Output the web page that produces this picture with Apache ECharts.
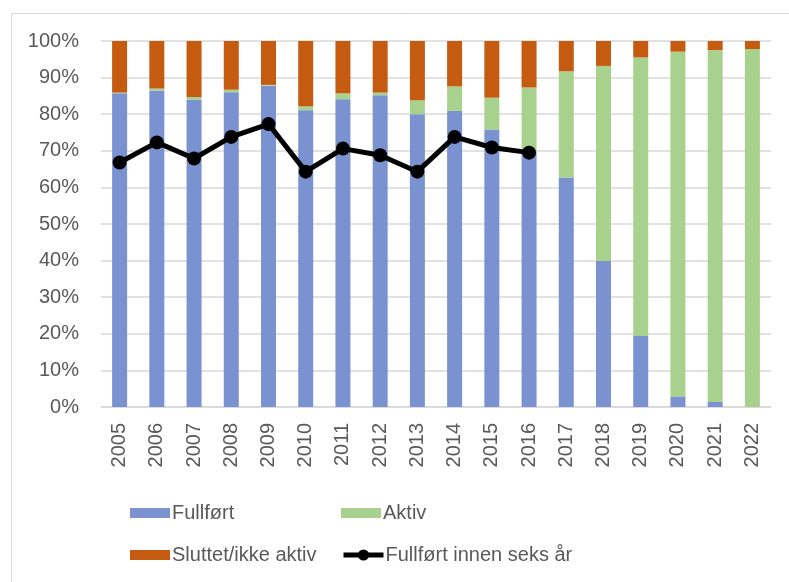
<!DOCTYPE html>
<html>
<head>
<meta charset="utf-8">
<script src="https://cdn.jsdelivr.net/npm/echarts@6/dist/echarts.min.js"></script>
<style>
  html, body { margin: 0; padding: 0; background: #fff; }
  #main { width: 789px; height: 582px; }
</style>
</head>
<body>
<div id="main"></div>
<script>
// år
const years = ['2005','2006','2007','2008','2009','2010','2011','2012','2013','2014','2015','2016','2017','2018','2019','2020','2021','2022'];
// andeler i prosent
const fullfort = [85.7, 86.5, 84.0, 86.0, 87.8, 81.1, 84.1, 85.2, 80.0, 80.9, 75.8, 69.6, 62.7, 39.9, 19.4, 2.9, 1.4, 0];
const aktiv    = [0.2, 0.5, 0.7, 0.7, 0.2, 1.1, 1.6, 0.7, 3.8, 6.7, 8.7, 17.7, 29.0, 53.3, 76.1, 94.2, 96.1, 97.8];
const sluttet  = fullfort.map((v, i) => +(100 - v - aktiv[i]).toFixed(1));
const innenSeks = [66.8, 72.3, 67.9, 73.8, 77.3, 64.3, 70.6, 68.8, 64.3, 73.8, 70.9, 69.5, null, null, null, null, null, null];

const txt = '#595959';
const font = 'Liberation Sans, Arial, sans-serif';

const chart = echarts.init(document.getElementById('main'));

// en legend per element, plassert som i originalen
function legendAt(name, left, top, extra) {
  return Object.assign({
    data: [name], left: left, top: top,
    icon: 'rect',
    itemWidth: 40, itemHeight: 10, itemGap: 0,
    textStyle: { color: txt, fontSize: 20, fontFamily: font, padding: [0, 0, 0, -3] },
    padding: 0
  }, extra || {});
}

chart.setOption({
  animation: false,
  backgroundColor: '#fff',
  graphic: [{
    type: 'rect', left: 9, top: 11,
    shape: { width: 800, height: 600 },
    style: { fill: 'none', stroke: '#d9d9d9', lineWidth: 1 },
    silent: true
  }],
  grid: { left: 101, right: 18, top: 41, bottom: 175 },
  legend: [
    legendAt('Fullført', 130, 503),
    legendAt('Aktiv', 341, 503),
    legendAt('Sluttet/ikke aktiv', 130, 545),
    legendAt('Fullført innen seks år', 341, 545, {
      icon: null, itemHeight: 14,
      lineStyle: { width: 5, color: '#000' },
      itemStyle: { color: '#000' }
    })
  ],
  xAxis: {
    type: 'category', data: years,
    axisTick: { show: false },
    axisLine: { lineStyle: { color: '#d9d9d9', width: 1.5 } },
    axisLabel: { rotate: 90, color: txt, fontSize: 20, fontFamily: font, margin: 16 }
  },
  yAxis: {
    type: 'value', min: 0, max: 100, interval: 10,
    axisLine: { show: false }, axisTick: { show: false },
    axisLabel: { formatter: '{value}%', color: txt, fontSize: 20, fontFamily: font, margin: 22 },
    splitLine: { lineStyle: { color: '#d9d9d9', width: 1.5 } }
  },
  series: [
    { name: 'Fullført', type: 'bar', stack: 'a', barWidth: 15, data: fullfort, itemStyle: { color: '#7a92cf' } },
    { name: 'Aktiv', type: 'bar', stack: 'a', barWidth: 15, data: aktiv, itemStyle: { color: '#a9d18e' } },
    { name: 'Sluttet/ikke aktiv', type: 'bar', stack: 'a', barWidth: 15, data: sluttet, itemStyle: { color: '#c55a11' } },
    {
      name: 'Fullført innen seks år', type: 'line', data: innenSeks, z: 5,
      symbol: 'circle', symbolSize: 14,
      lineStyle: { color: '#000', width: 5 },
      itemStyle: { color: '#000' }
    }
  ]
});
</script>
</body>
</html>
